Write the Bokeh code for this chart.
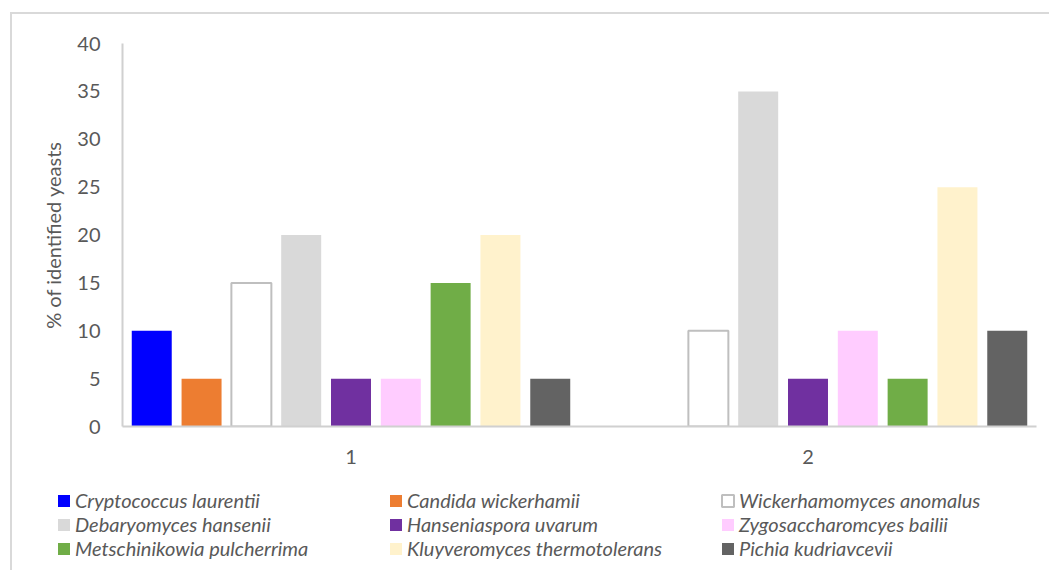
from bokeh.plotting import figure
from bokeh.models import ColumnDataSource, FactorRange, Range1d, Legend, LegendItem, FixedTicker
from bokeh.transform import dodge
from bokeh.layouts import column, row
from bokeh.embed import file_html
from bokeh.resources import INLINE

# ---- data ----
categories = ["1", "2"]
species = [
    "Cryptococcus laurentii",
    "Candida wickerhamii",
    "Wickerhamomyces anomalus",
    "Debaryomyces hansenii",
    "Hanseniaspora uvarum",
    "Zygosaccharomcyes bailii",
    "Metschinikowia pulcherrima",
    "Kluyveromyces thermotolerans",
    "Pichia kudriavcevii",
]
cryptococcus_laurentii = [10, 0]
candida_wickerhamii = [5, 0]
wickerhamomyces_anomalus = [15, 10]
debaryomyces_hansenii = [20, 35]
hanseniaspora_uvarum = [5, 5]
zygosaccharomyces_bailii = [5, 10]
metschnikowia_pulcherrima = [15, 5]
kluyveromyces_thermotolerans = [20, 25]
pichia_kudriavcevii = [5, 10]
y_ticks = [0, 5, 10, 15, 20, 25, 30, 35, 40]

series = [
    cryptococcus_laurentii, candida_wickerhamii, wickerhamomyces_anomalus,
    debaryomyces_hansenii, hanseniaspora_uvarum, zygosaccharomyces_bailii,
    metschnikowia_pulcherrima, kluyveromyces_thermotolerans, pichia_kudriavcevii,
]
fill_colors = ["#0000FF", "#ED7D31", "#FFFFFF", "#D9D9D9", "#7030A0",
               "#FFCCFF", "#70AD47", "#FFF2CC", "#636363"]
line_colors = [None, None, "#BFBFBF", None, None, None, None, None, None]

data = {"x": categories}
for i, s in enumerate(series):
    data[f"s{i}"] = s
source = ColumnDataSource(data)

TEXT = "#595959"
FONT = "Lato"
BORDER = "2px solid #d9d9d9"

p = figure(
    x_range=FactorRange(*categories), y_range=Range1d(0, 40),
    width=1037, height=466, output_backend="svg", toolbar_location=None,
    min_border_left=110, min_border_right=13, min_border_top=29, min_border_bottom=54,
)
p.outline_line_color = None
p.xgrid.grid_line_color = None
p.ygrid.grid_line_color = None

step = 0.109
bar_w = 0.0875
for i, s in enumerate(series):
    lc = line_colors[i]
    p.vbar(
        x=dodge("x", (i - 4) * step, range=p.x_range), top=f"s{i}", width=bar_w,
        source=source, fill_color=fill_colors[i],
        line_color=lc if lc else None, line_width=2 if lc else 0,
    )

# axes
p.yaxis.ticker = FixedTicker(ticks=y_ticks)
for ax in (p.xaxis[0], p.yaxis[0]):
    ax.major_tick_line_color = None
    ax.minor_tick_line_color = None
    ax.major_tick_in = 0
    ax.major_tick_out = 0
    ax.axis_line_color = "#D0D0D0"
    ax.axis_line_width = 2
    ax.major_label_text_font = FONT
    ax.major_label_text_font_size = "20px"
    ax.major_label_text_color = TEXT
p.yaxis.major_label_standoff = 22
p.xaxis.major_label_standoff = 23
p.yaxis.axis_label = "% of identified yeasts"
p.yaxis.axis_label_text_font = FONT
p.yaxis.axis_label_text_font_style = "normal"
p.yaxis.axis_label_text_font_size = "20px"
p.yaxis.axis_label_text_color = TEXT
p.yaxis.axis_label_standoff = 9

# legend strip (key swatches mirror the bar styles)
lf = figure(
    x_range=Range1d(0, 1), y_range=Range1d(0, 1),
    width=1037, height=90, output_backend="svg", toolbar_location=None,
    x_axis_location=None, y_axis_location=None,
    min_border=0, min_border_left=0, min_border_right=0, min_border_top=0, min_border_bottom=0,
)
lf.xgrid.grid_line_color = None
lf.ygrid.grid_line_color = None
lf.outline_line_color = None
lf.background_fill_alpha = 0
lf.border_fill_alpha = 0
swatches = []
for i in range(len(series)):
    lc = line_colors[i]
    r = lf.vbar(x=[float("nan")], top=[float("nan")], width=0.1, fill_color=fill_colors[i],
                line_color=lc if lc else None, line_width=2 if lc else 0)
    swatches.append(LegendItem(label=species[i], renderers=[r]))

# legend fills column by column; order so it reads row by row
ncols, nrows = 3, 3
order = [r * ncols + c for c in range(ncols) for r in range(nrows)]
items = [swatches[k] for k in order]

legend = Legend(
    items=items, location=(44, 10), ncols=ncols,
    label_text_font=FONT, label_text_font_style="italic",
    label_text_font_size="20px", label_text_color=TEXT,
    glyph_width=15, glyph_height=15, label_standoff=4,
    label_height=22, label_width=313, spacing=0,
    padding=0, margin=0, border_line_color=None, background_fill_alpha=0,
)
lf.add_layout(legend)

layout = column(
    p, row(lf, spacing=0), spacing=0, margin=(12, 0, 0, 10),
    styles={"border-top": BORDER, "border-left": BORDER},
)

open("out.html", "w").write(file_html(layout, INLINE))
